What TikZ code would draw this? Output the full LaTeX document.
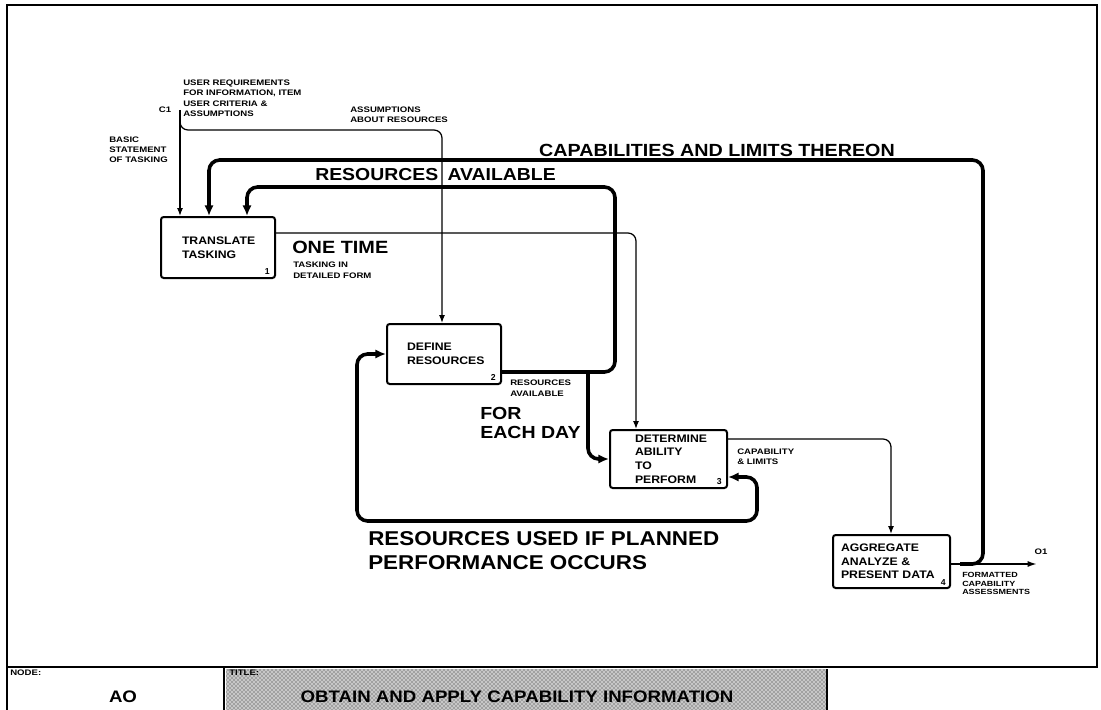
\documentclass[tikz,border=0pt]{standalone}
\usepackage{fontspec}
\setmainfont{Liberation Sans}
\newfontfamily\bigf[FakeStretch=1.12]{Liberation Sans}
\newfontfamily\smallf[FakeStretch=1.2]{Liberation Sans}
\usetikzlibrary{arrows.meta,calc,patterns}
\begin{document}
\begin{tikzpicture}[x=0.75pt,y=-0.75pt,
  box/.style={draw,line width=1.5pt,rounded corners=2pt,align=left,
    font=\bigf\fontsize{8.2}{10.2}\selectfont\bfseries,inner ysep=0pt},
  num/.style={font=\fontsize{6.5}{7}\selectfont\bfseries,inner sep=0pt},
  conn/.style={line width=0.95pt,rounded corners=6pt,-{Latex[length=6pt,width=4.5pt]}},
  fat/.style={line width=2.7pt,rounded corners=8pt,-{Latex[length=8pt,width=7pt]}},
  small/.style={font=\smallf\fontsize{6}{7.2}\selectfont\bfseries,align=left,inner sep=0pt},
  big/.style={align=left,inner sep=0pt},
  tb/.style={font=\bigf\fontsize{12.5}{14}\selectfont\bfseries,inner sep=0pt}]
\useasboundingbox (0,0) rectangle (1101,710);

% frame and title block
\draw[line width=1.2pt] (7,5) rectangle (1097,667);
\fill[black!22] (226,669) rectangle (827,710);
\fill[pattern=crosshatch dots,pattern color=black!85] (226,669) rectangle (827,710);
\draw[line width=1.2pt] (7,667) -- (7,710);
\draw[line width=1.2pt] (224,667) -- (224,710);
\draw[line width=0.8pt] (827,669) -- (827,710);
\node[small,anchor=north west] (tnode) at (10,670) {NODE:};
\node[tb] (tao) at (123,697) {AO};
\node[small,anchor=north west] (ttitle) at (229,670) {TITLE:};
\node[tb] (tobt) at (517,697) {OBTAIN AND APPLY CAPABILITY INFORMATION};

% boxes
\node[box,text width=54pt,inner xsep=15.75pt,minimum height=45.75pt] (b1) at (218,247.5) {TRANSLATE\\TASKING};
\node[box,text width=55.5pt,inner xsep=15pt,minimum height=45pt] (b2) at (444,354) {DEFINE\\RESOURCES};
\node[box,text width=50.25pt,inner xsep=18.75pt,minimum height=43.5pt] (b3) at (668.5,459) {DETERMINE\\ABILITY\\TO\\PERFORM};
\node[box,text width=75.75pt,inner xsep=6pt,minimum height=39.75pt] (b4) at (891.5,561.5) {AGGREGATE\\ANALYZE~\&\\PRESENT~DATA};
\node[num,anchor=south east] (n1) at ($(b1.south east)+(-6,-4)$) {1};
\node[num,anchor=south east] (n2) at ($(b2.south east)+(-6,-4)$) {2};
\node[num,anchor=south east] (n3) at ($(b3.south east)+(-6,-4)$) {3};
\node[num,anchor=south east] (n4) at ($(b4.south east)+(-5,-3)$) {4};

% labels
\node[small,font=\smallf\fontsize{6}{7.6}\selectfont\bfseries,anchor=north west] (lc1) at (183,80) {USER REQUIREMENTS\\FOR INFORMATION, ITEM\\USER CRITERIA \&\\ASSUMPTIONS};
\node[small] (c1l) at (165,110) {C1};
\node[small,anchor=north west] (lass) at (350,107) {ASSUMPTIONS\\ABOUT RESOURCES};
\node[small,anchor=north west] (lbas) at (109,137) {BASIC\\STATEMENT\\OF TASKING};
\node[big,font=\bigf\fontsize{13.2}{16}\selectfont\bfseries] (lcap) at (717,150) {CAPABILITIES AND LIMITS THEREON};
\node[big,font=\bigf\fontsize{13}{16}\selectfont\bfseries,anchor=west] (lres) at (315,175) {RESOURCES\hspace{7pt}AVAILABLE};
\node[big,font=\bigf\fontsize{13.3}{16}\selectfont\bfseries,anchor=west] (lone) at (292,247) {ONE TIME};
\node[small,font=\smallf\fontsize{6}{8.25}\selectfont\bfseries,anchor=north west] (ltask) at (293,262) {TASKING IN\\DETAILED FORM};
\node[small,font=\smallf\fontsize{6}{8.25}\selectfont\bfseries,anchor=north west] (lra) at (510,380) {RESOURCES\\AVAILABLE};
\node[big,font=\bigf\fontsize{13.1}{14.5}\selectfont\bfseries,anchor=north west] (lday) at (480,407) {FOR\\EACH DAY};
\node[small,anchor=north west] (lcl) at (737,449) {CAPABILITY\\\& LIMITS};
\node[big,font=\bigf\fontsize{15}{18}\selectfont\bfseries,anchor=north west] (lused) at (368,531) {RESOURCES USED IF PLANNED\\PERFORMANCE OCCURS};
\node[small] (lo1) at (1041,552) {O1};
\node[small,font=\smallf\fontsize{5.6}{6.4}\selectfont\bfseries,anchor=north west] (lfmt) at (962,572) {FORMATTED\\CAPABILITY\\ASSESSMENTS};

% coordinates
\coordinate (c1) at (180,110);
\coordinate (j1) at (180,118);
\coordinate (a1) at (442,130);
\coordinate (k0) at (960,564);
\coordinate (k1) at (983,160);
\coordinate (r1) at (615,187);
\coordinate (j2) at (588,371);
\coordinate (f1) at (757,521);
\coordinate (f2) at (357,521);

% connectors
\draw[conn] (c1) -- (c1 |- b1.north);
\draw[conn] (j1) |- (a1) -- (a1 |- b2.north);
\draw[fat] (k0) -| (k1) -| ($(b1.north west)+(49,0)$);
\draw[fat] ($(b2.south east)+(0,-13)$) -| (r1) -| ($(b1.north west)+(87,0)$);
\draw[fat] (j2) |- (b3.west);
\draw[conn] ($(b1.east)+(0,-14.5)$) -| ($(b3.north west)+(27,0)$);
\draw[conn] ($(b3.east)+(0,-20)$) -| ($(b4.north west)+(59,0)$);
\draw[fat,{Latex[length=8pt,width=7pt]}-{Latex[length=8pt,width=7pt]}] ($(b3.south east)+(0,-12)$) -| (f1) -- (f2) |- (b2.west);
\draw[line width=1.3pt,-{Latex[length=7pt,width=4.5pt]}] ($(b4.east)+(0,2.5)$) -- (1037,564);
\end{tikzpicture}
\end{document}
